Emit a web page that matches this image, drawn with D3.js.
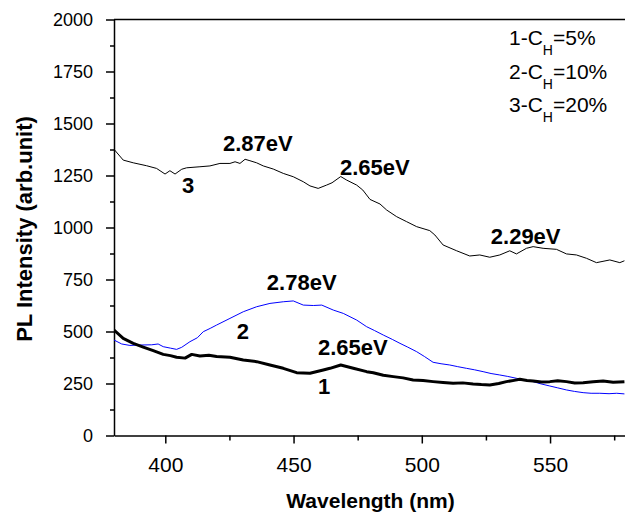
<!DOCTYPE html>
<html>
<head>
<meta charset="utf-8">
<script src="https://cdnjs.cloudflare.com/ajax/libs/d3/7.8.5/d3.min.js"></script>
<style>
  body { margin: 0; background: #fff; }
  svg { display: block; font-family: "Liberation Sans", Arial, sans-serif; }
</style>
</head>
<body>
<svg></svg>
<script>
// curve 1 : C_H = 5% (thick black)
var wl1 = [380, 383.6, 387.5, 391.4, 395.3, 399.2, 402, 404.4, 407.7, 410.3, 413.5, 417, 420, 425.2, 430.4,
           435.6, 440.8, 446, 451.2, 456.4, 461.6, 464.2, 468.4, 473.3, 478.5, 481.1, 485, 488.9, 492.7, 496.6,
           500.5, 504.4, 508.3, 512.2, 516, 520, 523.2, 526.5, 530, 533, 536, 538.2, 541, 543.4, 546.7,
           549.9, 553, 556.4, 559.6, 562.9, 566.8, 570.7, 574.6, 579];
var pl1 = [507, 467, 443, 425, 408, 390, 384, 376, 372, 390, 382, 386, 380, 376, 363,
           355, 339, 323, 302, 299, 315, 323, 339, 323, 307, 302, 290, 283, 277, 267,
           264, 259, 255, 251, 253, 248, 245, 243, 250, 259, 265, 270, 264, 262, 257,
           259, 263, 259, 252, 254, 258, 262, 256, 259];

// curve 2 : C_H = 10% (blue)
var wl2 = [380, 383, 386.2, 390, 394.7, 397.2, 399.2, 402, 404.4, 406.4, 409.6, 412.5, 414.8, 417.5, 420,
           425.2, 430.4, 435.6, 440.8, 446, 449.9, 453.8, 457.7, 461, 465.5, 469.4, 472, 474.6, 478.5,
           481.5, 485, 488.5, 491.5, 494.5, 498, 501, 504.4, 507.5, 510.9, 514, 517.4, 520.5, 523.9,
           527, 530.4, 533.5, 536.9, 540, 543.4, 546.5, 549.9, 553, 556.4, 559.5, 562.9, 566, 569.4,
           573, 576, 579];
var pl2 = [459, 440, 433, 435, 436, 440, 427, 420, 414, 424, 451, 470, 499, 515, 531,
           563, 595, 619, 635, 643, 647, 627, 625, 627, 603, 587, 571, 555, 523,
           505, 483, 462, 443, 425, 403, 380, 352, 345, 339, 331, 323, 316, 307,
           298, 291, 284, 275, 266, 259, 248, 238, 229, 219, 212, 206, 203, 203,
           201, 203, 200];

// curve 3 : C_H = 20% (thin black)
var wl3 = [380, 383.6, 387.5, 392.7, 396.6, 399.9, 401.8, 403.8, 406.4, 408.3, 413.5, 417.4, 421.3, 425.2,
           427.2, 429.1, 431.1, 433, 435.6, 438.2, 442.1, 446, 449.9, 453.8, 456.4, 459.6, 462.9, 465,
           468.4, 470.7, 474.6, 477, 479.8, 483.7, 486.3, 490.2, 494.1, 498, 503.1, 505.1, 508.3, 513.6,
           518.7, 522.6, 526.5, 530.4, 534.3, 536.9, 540.8, 543.4, 547.3, 552.5, 556.4, 560.3, 564.2,
           568.1, 573.3, 577.2, 579];
var pl3 = [1376, 1324, 1311, 1297, 1284, 1257, 1273, 1257, 1280, 1287, 1292, 1296, 1308, 1308,
           1316, 1308, 1328, 1321, 1311, 1296, 1281, 1260, 1244, 1220, 1200, 1188, 1204, 1215,
           1245, 1228, 1204, 1180, 1135, 1113, 1084, 1052, 1028, 1004, 985, 964, 916, 888,
           863, 868, 857, 868, 888, 873, 900, 908, 900, 895, 873, 868, 852,
           831, 844, 831, 840];

var yTicks = [0, 250, 500, 750, 1000, 1250, 1500, 1750, 2000];
var yMinor = [125, 375, 625, 875, 1125, 1375, 1625, 1875];
var xTicks = [400, 450, 500, 550];
var xMinor = [425, 475, 525, 575];

var legendText = [["1-C", "H", "=5%"], ["2-C", "H", "=10%"], ["3-C", "H", "=20%"]];

// peak labels, anchored in data units (left edge, baseline)
var notes = [
  {text: "2.87eV", wl: 422.5, v: 1368},
  {text: "3",      wl: 406.5, v: 1166},
  {text: "2.65eV", wl: 468.1, v: 1252},
  {text: "2.29eV", wl: 526.9, v: 920},
  {text: "2.78eV", wl: 439.6, v: 700},
  {text: "2",      wl: 427.9, v: 464},
  {text: "2.65eV", wl: 459.5, v: 387},
  {text: "1",      wl: 459.5, v: 200}
];

var margin = {top: 19.5, left: 114},
    width = 513,
    height = 416;

var svg = d3.select("svg").attr("width", 625).attr("height", 513);

var g = svg.append("g")
  .attr("transform", "translate(" + margin.left + "," + margin.top + ")");

var x = d3.scaleLinear().domain([380, 580]).range([0, width]);
var y = d3.scaleLinear().domain([0, 2000]).range([height, 0]);

g.append("clipPath").attr("id", "clip")
  .append("rect").attr("width", width).attr("height", height);

// minor ticks first
g.append("g")
  .call(d3.axisLeft(y).tickValues(yMinor).tickSize(4).tickFormat(""))
  .call(function(a) { a.select(".domain").remove(); });

g.append("g")
  .attr("transform", "translate(0," + height + ")")
  .call(d3.axisBottom(x).tickValues(xMinor).tickSize(5).tickFormat(""))
  .call(function(a) { a.select(".domain").remove(); });

var yAxis = g.append("g")
  .call(d3.axisLeft(y).tickValues(yTicks).tickSize(8).tickPadding(13)
    .tickSizeOuter(0).tickFormat(d3.format("d")));
yAxis.selectAll("text").style("font-size", "18px").attr("fill", "#000");

var xAxis = g.append("g")
  .attr("transform", "translate(0," + height + ")")
  .call(d3.axisBottom(x).tickValues(xTicks).tickSize(8).tickPadding(13.5)
    .tickSizeOuter(0).tickFormat(d3.format("d")));
xAxis.selectAll("text").style("font-size", "21px").attr("fill", "#000");

g.selectAll(".domain").attr("stroke-width", 1.5);
g.selectAll(".tick line").attr("stroke-width", 1.5);

// top frame line
g.append("line")
  .attr("x1", 0).attr("x2", width)
  .attr("y1", 0).attr("y2", 0)
  .attr("stroke", "#000").attr("stroke-width", 1.5);

function series(wl, pl) {
  return wl.map(function(w, i) { return {w: w, v: pl[i]}; });
}

var line = d3.line()
  .x(function(d) { return x(d.w); })
  .y(function(d) { return y(d.v); });

var curves = [
  {data: series(wl3, pl3), color: "#000", w: 1},
  {data: series(wl2, pl2), color: "#0000ff", w: 1},
  {data: series(wl1, pl1), color: "#000", w: 3}
];

g.selectAll(".curve")
  .data(curves)
  .enter().append("path")
  .attr("class", "curve")
  .attr("clip-path", "url(#clip)")
  .attr("d", function(c) { return line(c.data); })
  .attr("fill", "none")
  .attr("stroke", function(c) { return c.color; })
  .attr("stroke-width", function(c) { return c.w; })
  .attr("stroke-linejoin", "round");

g.selectAll(".note")
  .data(notes)
  .enter().append("text")
  .attr("class", "note")
  .attr("x", function(d) { return x(d.wl); })
  .attr("y", function(d) { return y(d.v); })
  .style("font-size", "22px")
  .style("font-weight", "bold")
  .text(function(d) { return d.text; });

// legend text, top right
var leg = svg.append("g");
legendText.forEach(function(t, i) {
  var txt = leg.append("text")
    .attr("x", 509)
    .attr("y", 45 + i * 33.5)
    .style("font-size", "21px");
  txt.append("tspan").text(t[0]);
  txt.append("tspan").attr("dy", 10).style("font-size", "14px").text(t[1]);
  txt.append("tspan").attr("dy", -10).text(t[2]);
});

svg.append("text")
  .attr("x", 370.5)
  .attr("y", 508)
  .attr("text-anchor", "middle")
  .style("font-size", "21px")
  .style("font-weight", "bold")
  .text("Wavelength (nm)");

svg.append("text")
  .attr("transform", "rotate(-90)")
  .attr("x", -229)
  .attr("y", 32)
  .attr("text-anchor", "middle")
  .style("font-size", "22px")
  .style("font-weight", "bold")
  .text("PL Intensity (arb.unit)");
</script>
</body>
</html>
